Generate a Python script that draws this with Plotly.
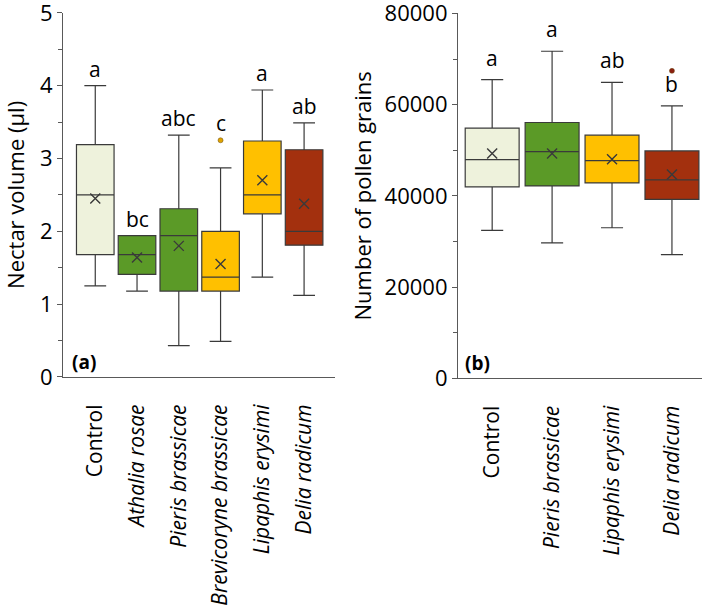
import plotly.graph_objects as go

# ---- Panel (a): nectar volume ----
cats_a = ["Control", "Athalia rosae", "Pieris brassicae", "Brevicoryne brassicae",
          "Lipaphis erysimi", "Delia radicum"]
italic_a = [False, True, True, True, True, True]
low_a = [1.25, 1.18, 0.43, 0.49, 1.37, 1.12]
q1_a = [1.68, 1.41, 1.18, 1.18, 2.24, 1.81]
med_a = [2.50, 1.68, 1.94, 1.37, 2.50, 2.00]
q3_a = [3.19, 1.94, 2.31, 2.00, 3.24, 3.12]
up_a = [4.00, 1.94, 3.32, 2.87, 3.94, 3.49]
mean_a = [2.45, 1.64, 1.80, 1.55, 2.70, 2.38]
outliers_a = [[], [], [], [3.25], [], []]
letters_a = ["a", "bc", "abc", "c", "a", "ab"]
yticks_a = [0, 1, 2, 3, 4, 5]

# ---- Panel (b): pollen grains ----
cats_b = ["Control", "Pieris brassicae", "Lipaphis erysimi", "Delia radicum"]
italic_b = [False, True, True, True]
low_b = [32400, 29700, 33000, 27100]
q1_b = [41950, 42170, 42830, 39240]
med_b = [47950, 49710, 47730, 43480]
q3_b = [54830, 56080, 53300, 49850]
up_b = [65500, 71700, 64860, 59740]
mean_b = [49270, 49270, 48020, 44660]
outliers_b = [[], [], [], [67400]]
letters_b = ["a", "a", "ab", "b"]
yticks_b = [0, 20000, 40000, 60000, 80000]

colors_a = ["#EEF2DC", "#5B9A27", "#5B9A27", "#FFC000", "#FFC000", "#A3300E"]
colors_b = ["#EEF2DC", "#5B9A27", "#FFC000", "#A3300E"]
outlier_fill = {"#FFC000": "#E0A400", "#A3300E": "#8B1E10"}

LINE = "#3A3A3A"
AXIS = "#595959"
FONT = "Open Sans"

fig = go.Figure()


def add_panel(xa, ya, lows, q1s, meds, q3s, ups, means, outs, colors, whiskerw):
    for i in range(len(lows)):
        fig.add_trace(go.Box(
            x=[i], q1=[q1s[i]], median=[meds[i]], q3=[q3s[i]],
            lowerfence=[lows[i]], upperfence=[ups[i]],
            width=0.9, whiskerwidth=whiskerw,
            fillcolor=colors[i], line=dict(color=LINE, width=1.2),
            boxpoints=False, showlegend=False, hoverinfo="skip",
            xaxis=xa, yaxis=ya))
        if outs[i]:
            fig.add_trace(go.Scatter(
                x=[i] * len(outs[i]), y=outs[i], mode="markers",
                marker=dict(size=5, color=outlier_fill.get(colors[i], colors[i]),
                            line=dict(color="#6B4A10", width=0.5)),
                showlegend=False, hoverinfo="skip", xaxis=xa, yaxis=ya))
    fig.add_trace(go.Scatter(
        x=list(range(len(means))), y=means, mode="markers",
        marker=dict(symbol="x-thin", size=10, line=dict(color=LINE, width=1.4)),
        showlegend=False, hoverinfo="skip", xaxis=xa, yaxis=ya))


add_panel("x", "y", low_a, q1_a, med_a, q3_a, up_a, mean_a, outliers_a, colors_a, 0.58)
add_panel("x2", "y2", low_b, q1_b, med_b, q3_b, up_b, mean_b, outliers_b, colors_b, 0.41)

annotations = []
for i, lt in enumerate(letters_a):
    top = max([up_a[i]] + outliers_a[i])
    annotations.append(dict(x=i, y=top, xref="x", yref="y", text=lt, showarrow=False,
                            yanchor="middle", yshift=17,
                            font=dict(family=FONT, size=21, color="#000")))
for i, lt in enumerate(letters_b):
    annotations.append(dict(x=i, y=up_b[i], xref="x2", yref="y2", text=lt, showarrow=False,
                            yanchor="middle", yshift=22,
                            font=dict(family=FONT, size=21, color="#000")))
annotations.append(dict(x=0.0, y=0.0, xref="x domain", yref="y domain", text="<b>(a)</b>",
                        showarrow=False, xanchor="left", yanchor="bottom", xshift=7, yshift=0,
                        font=dict(family=FONT, size=19, color="#000")))
annotations.append(dict(x=0.0, y=0.0, xref="x2 domain", yref="y2 domain", text="<b>(b)</b>",
                        showarrow=False, xanchor="left", yanchor="bottom", xshift=5, yshift=0,
                        font=dict(family=FONT, size=19, color="#000")))


def ticktext(cats, ital):
    return [f"<i>{c}</i>" if it else c for c, it in zip(cats, ital)]


xcommon = dict(showgrid=False, zeroline=False, showline=True, linecolor=AXIS, linewidth=1.2,
               ticks="", tickangle=-90, ticklabelstandoff=18, automargin=False,
               tickfont=dict(family=FONT, size=21, color="#000"))
ycommon = dict(showgrid=False, zeroline=False, showline=True, linecolor=AXIS, linewidth=1.2,
               ticks="outside", ticklen=5, tickcolor=AXIS, tickwidth=1.2, tickmode="array",
               tickformat="d", automargin=False, ticklabeloverflow="allow",
               tickfont=dict(family=FONT, size=22, color="#000"))

fig.update_layout(
    width=709, height=610,
    margin=dict(l=0, r=0, t=0, b=0),
    paper_bgcolor="white", plot_bgcolor="white",
    font=dict(family=FONT, color="#000"),
    xaxis=dict(domain=[0.089, 0.4725], range=[-0.77, 5.74],
               tickvals=list(range(len(cats_a))), ticktext=ticktext(cats_a, italic_a),
               anchor="y", **xcommon),
    yaxis=dict(domain=[0.382, 0.979], range=[0, 5], tickvals=yticks_a, anchor="x",
               minor=dict(dtick=0.5, ticks="outside", ticklen=4, tickcolor=AXIS),
               title=dict(text="Nectar volume (µl)", font=dict(family=FONT, size=22, color="#000"),
                          standoff=22),
               **ycommon),
    xaxis2=dict(domain=[0.646, 0.990], range=[-0.57, 3.5],
                tickvals=list(range(len(cats_b))), ticktext=ticktext(cats_b, italic_b),
                anchor="y2", **xcommon),
    yaxis2=dict(domain=[0.380, 0.978], range=[0, 80000], tickvals=yticks_b, anchor="x2",
                minor=dict(dtick=10000, ticks="outside", ticklen=4, tickcolor=AXIS),
                title=dict(text="Number of pollen grains",
                           font=dict(family=FONT, size=22, color="#000"), standoff=6),
                **ycommon),
    annotations=annotations,
)

fig.write_html("out.html", config={"displayModeBar": False},
               post_script="document.body.style.margin='0';")
